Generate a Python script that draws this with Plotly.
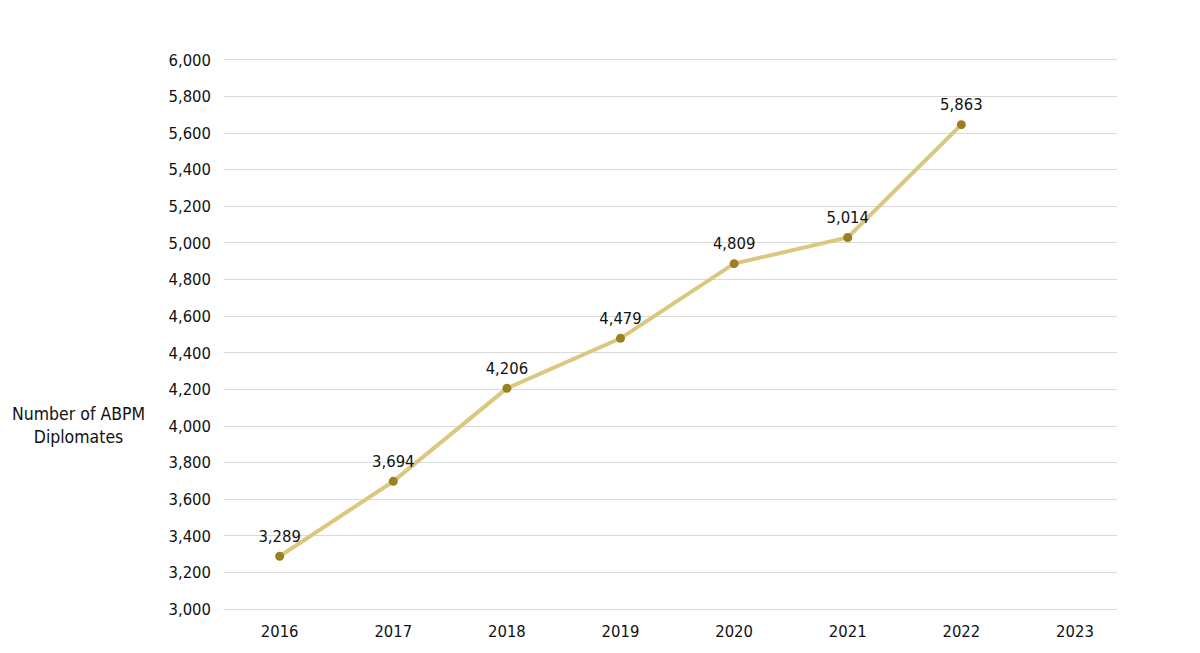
import plotly.graph_objects as go

years = ["2016", "2017", "2018", "2019", "2020", "2021", "2022", "2023"]
diplomates = [3289, 3698, 4206, 4479, 4887, 5030, 5646]
point_labels = ["3,289", "3,694", "4,206", "4,479", "4,809", "5,014", "5,863"]
y_ticks = list(range(3000, 6001, 200))
y_tick_text = [f"{v:,}" for v in y_ticks]

FONT = "DejaVu Sans Condensed, Liberation Sans, Arial, sans-serif"

fig = go.Figure()
fig.add_trace(go.Scatter(
    x=years[:len(diplomates)],
    y=diplomates,
    mode="lines+markers",
    line=dict(color="#DCC77F", width=4),
    marker=dict(color="#9C7F1F", size=9),
    hoverinfo="skip",
    showlegend=False,
))
# labels, placed a little further above the points
fig.add_trace(go.Scatter(
    x=years[:len(diplomates)],
    y=diplomates,
    mode="markers+text",
    marker=dict(color="rgba(0,0,0,0)", size=15),
    text=point_labels,
    textposition="top center",
    textfont=dict(family=FONT, size=16.5, color="#111111"),
    hoverinfo="skip",
    showlegend=False,
))

fig.update_xaxes(
    type="category",
    categoryorder="array",
    categoryarray=years,
    tickvals=years,
    range=[-0.49, 7.37],
    showgrid=False,
    showline=False,
    zeroline=False,
    tickfont=dict(family=FONT, size=16.5, color="#111111"),
    ticks="",
    ticklabelstandoff=8,
)
fig.update_yaxes(
    range=[2990, 6010],
    tickvals=y_ticks,
    ticktext=y_tick_text,
    showgrid=True,
    gridcolor="#DADADA",
    gridwidth=1,
    zeroline=False,
    showline=False,
    ticks="",
    tickfont=dict(family=FONT, size=16.5, color="#111111"),
    ticklabelstandoff=12,
)

fig.add_annotation(
    text="Number of ABPM<br>Diplomates",
    xref="paper", yref="paper",
    x=-0.163, y=0.335,
    xanchor="center", yanchor="middle",
    showarrow=False,
    align="center",
    font=dict(family=FONT, size=17.5, color="#111111"),
)

fig.update_layout(
    width=1192, height=645,
    margin=dict(l=216, r=83, t=50, b=42),
    paper_bgcolor="white",
    plot_bgcolor="white",
)

fig.write_html("out.html")
